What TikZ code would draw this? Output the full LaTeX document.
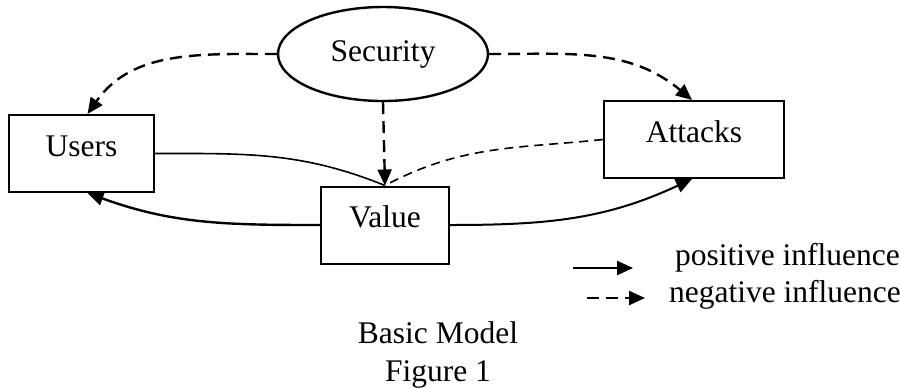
\documentclass[tikz,border=0pt]{standalone}
\usepackage{fontspec}
\setmainfont{Liberation Serif}
\usepackage{tikz}
\usetikzlibrary{arrows.meta, shapes.geometric}

\begin{document}
\begin{tikzpicture}[x=0.5pt, y=0.5pt,
    every node/.style={font=\fontsize{15.75}{19}\selectfont},
    box/.style={draw, line width=1pt, inner xsep=0pt, inner ysep=0pt, text height=20.5pt, text depth=18pt},
    posline/.style={line width=0.8pt},
    negline/.style={line width=1.2pt, dash pattern=on 6pt off 3.5pt},
    tip/.style={-{Triangle[length=8pt, width=7pt]}}
]
    \useasboundingbox (0,0) rectangle (900,-387);

    % the four parts of the model
    \node[draw, ellipse, line width=1.2pt, minimum width=105pt, minimum height=47pt, inner sep=0pt] (sec) at (383,-54) {Security};
    \node[box, minimum width=72.5pt] (users) at (81.5,-153.5) {Users};
    \node[box, minimum width=64pt] (value) at (385,-225) {Value};
    \node[box, minimum width=90pt] (attacks) at (694,-139.5) {Attacks};

    % influences
    \draw[negline, tip] (sec.west) to[out=180, in=55] ([xshift=3pt]users.north);
    \draw[negline, tip] (sec.east) to[out=0, in=140] ([xshift=-1pt]attacks.north);
    \draw[negline, tip] (sec.south) -- (value.north);
    \draw[posline] (users.east) to[out=0, in=158] (value.north);
    \draw[line width=0.8pt, dash pattern=on 4.5pt off 3pt] (attacks.west) to[out=186, in=28] (value.north);
    \draw[posline, line width=1.2pt, tip] (value.west) to[out=180, in=-20] ([xshift=3pt]users.south);
    \draw[posline, line width=1pt, tip] (value.east) to[out=0, in=-155] ([xshift=-1pt]attacks.south);

    % legend
    \coordinate (posA) at (573,-268);
    \coordinate (posB) at (633,-268);
    \draw[line width=1.2pt, tip] (posA) -- (posB);
    \node[anchor=base west] (posl) at (668,-265) {positive influence};
    \coordinate (negA) at (587,-298);
    \coordinate (negB) at (645,-298);
    \draw[negline, tip] (negA) -- (negB);
    \node[anchor=base west] (negl) at (662,-302) {negative influence};

    % caption
    \node[anchor=base] (cap1) at (438,-343) {Basic Model};
    \node[anchor=base] (cap2) at (438,-381) {Figure 1};
\end{tikzpicture}
\end{document}
